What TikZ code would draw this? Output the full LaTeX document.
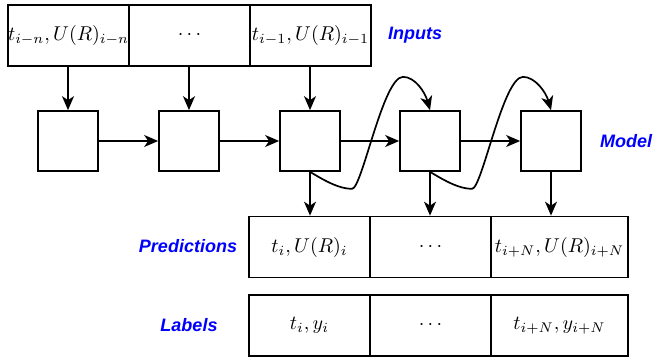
\documentclass[tikz,border=0pt]{standalone}
\usepackage{fontspec}
\newfontfamily\lblfont{Liberation Sans}
\usetikzlibrary{arrows.meta}
\begin{document}
\begin{tikzpicture}[x=0.5pt,y=-0.5pt,
  every node/.style={font=\fontsize{10.3}{12}\selectfont},
  cell/.style={draw,line width=0.85pt,inner sep=0pt,minimum height=30.5pt,minimum width=60.5pt},
  wcell/.style={cell,minimum width=68.5pt},
  mbox/.style={draw,line width=0.85pt,fill=white,inner sep=0pt,minimum width=30pt,minimum height=30pt},
  arr/.style={line width=0.85pt,-{Stealth[length=7pt,width=6pt,inset=2pt]}},
  tag/.style={text=blue,font=\lblfont\bfseries\itshape\fontsize{9}{11}\selectfont}]
\useasboundingbox (0,0) rectangle (653,358);
% inputs
\node[cell] (i1) at (68.5,35.5) {$t_{i-n},U(R)_{i-n}$};
\node[cell] (i2) at (189.5,35.5) {$\cdots$};
\node[cell] (i3) at (310.5,35.5) {$t_{i-1},U(R)_{i-1}$};
% model
\node[mbox] (m1) at (68,141) {};
\node[mbox] (m2) at (189,141) {};
\node[mbox] (m3) at (310,141) {};
\node[mbox] (m4) at (430,141) {};
\node[mbox] (m5) at (551,141) {};
% predictions
\node[cell] (p1) at (309.5,247) {$t_i,U(R)_i$};
\node[cell] (p2) at (430.5,247) {$\cdots$};
\node[wcell] (p3) at (559.5,247) {$t_{i+N},U(R)_{i+N}$};
% labels
\node[cell] (l1) at (309.5,325.5) {$t_i,y_i$};
\node[cell] (l2) at (430.5,325.5) {$\cdots$};
\node[wcell] (l3) at (559.5,325.5) {$t_{i+N},y_{i+N}$};
% tags
\node[tag] (tin) at (415,35) {Inputs};
\node[tag] (tmo) at (626,141) {Model};
\node[tag] (tpr) at (188,246) {Predictions};
\node[tag] (tla) at (189,325) {Labels};
% arrows
\draw[arr] (i1.south -| m1) -- (m1.north);
\draw[arr] (i2.south -| m2) -- (m2.north);
\draw[arr] (i3.south -| m3) -- (m3.north);
\draw[arr] (m1) -- (m2);
\draw[arr] (m2) -- (m3);
\draw[arr] (m3) -- (m4);
\draw[arr] (m4) -- (m5);
\draw[arr] (m3.south) -- (m3.south |- p1.north);
\draw[arr] (m4.south) -- (m4.south |- p2.north);
\draw[arr] (m5.south) -- (m5.south |- p3.north);
\draw[arr] (m3.south) .. controls +(15,9) and +(-13,0) .. ++(42,17)
  .. controls +(10,0) and +(-20,0) .. ++(51,-112)
  .. controls +(12,0) and +(-5,-18) .. (m4.north);
\draw[arr] (m4.south) .. controls +(15,9) and +(-13,0) .. ++(42,17)
  .. controls +(10,0) and +(-20,0) .. ++(51,-112)
  .. controls +(12,0) and +(-5,-18) .. (m5.north);
\end{tikzpicture}
\end{document}
